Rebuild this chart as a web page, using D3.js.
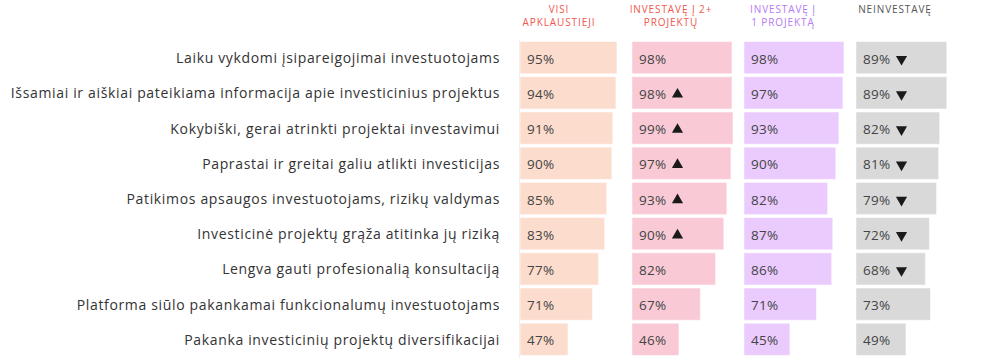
<!DOCTYPE html>
<html><head><meta charset="utf-8">
<script src="https://cdn.jsdelivr.net/npm/d3@7"></script>
<style>body{margin:0;background:#fff;}svg{display:block;font-family:"Open Sans",sans-serif;}</style>
</head><body><svg id="c" width="984" height="360"></svg>
<script>
const categories = [
  "Laiku vykdomi įsipareigojimai investuotojams",
  "Išsamiai ir aiškiai pateikiama informacija apie investicinius projektus",
  "Kokybiški, gerai atrinkti projektai investavimui",
  "Paprastai ir greitai galiu atlikti investicijas",
  "Patikimos apsaugos investuotojams, rizikų valdymas",
  "Investicinė projektų grąža atitinka jų riziką",
  "Lengva gauti profesionalią konsultaciją",
  "Platforma siūlo pakankamai funkcionalumų investuotojams",
  "Pakanka investicinių projektų diversifikacijai"
];
const seriesNames = [["VISI","APKLAUSTIEJI"],["INVESTAVĘ Į 2+","PROJEKTŲ"],["INVESTAVĘ Į","1 PROJEKTĄ"],["NEINVESTAVĘ"]];
const allRespondents = [95,94,91,90,85,83,77,71,47];
const invested2plus  = [98,98,99,97,93,90,82,67,46];
const invested1      = [98,97,93,90,82,87,86,71,45];
const notInvested    = [89,89,82,81,79,72,68,73,49];
// significance markers: "up", "down" or ""
const marks2plus = ["","up","up","up","up","up","","",""];
const marksNot   = ["down","down","down","down","down","down","down","",""];
const marksNone  = ["","","","","","","","",""];

const series = [
  {name: seriesNames[0], values: allRespondents, marks: marksNone, fill:"#fcdccc", head:"#f2574c"},
  {name: seriesNames[1], values: invested2plus, marks: marks2plus, fill:"#f9cad5", head:"#f2574c"},
  {name: seriesNames[2], values: invested1, marks: marksNone, fill:"#ebcbfd", head:"#b57bf2"},
  {name: seriesNames[3], values: notInvested, marks: marksNot, fill:"#d9d9d9", head:"#555555"}
];

const svg = d3.select("#c");
const y = d3.scaleBand().domain(categories).range([40.5, 356.5]).paddingInner(0.085).paddingOuter(0.03);
const colX = d3.scaleBand().domain(d3.range(series.length)).range([520, 968]).paddingInner(0);
const w = d3.scaleLinear().domain([0,100]).range([0,102]);

svg.append("line").attr("x1",519.5).attr("x2",519.5).attr("y1",40).attr("y2",358)
  .attr("stroke","#ececec").attr("stroke-width",1);

svg.append("g").selectAll("text").data(categories).join("text")
  .attr("x",500).attr("y",d=>y(d)+y.bandwidth()/2+5.5)
  .attr("text-anchor","end").attr("font-size",14).attr("fill","#333")
  .attr("letter-spacing","0.66px")
  .text(d=>d);

const tri = d3.symbol().type(d3.symbolTriangle).size(54);

series.forEach((s,i)=>{
  const x0 = colX(i);
  const g = svg.append("g");
  g.append("text").attr("text-anchor","middle").attr("font-size",10).attr("fill",s.head)
    .attr("letter-spacing","0.9px")
    .selectAll("tspan").data(s.name).join("tspan")
    .attr("x",x0+39).attr("y",(d,k)=>12.5+k*13).text(d=>d);
  g.selectAll("rect").data(s.values).join("rect")
    .attr("x",x0).attr("y",(d,k)=>y(categories[k]))
    .attr("width",d=>w(d)).attr("height",y.bandwidth())
    .attr("fill",s.fill).attr("stroke","#ffffff").attr("stroke-opacity",0.5).attr("stroke-width",1);
  const vt = g.selectAll("text.v").data(s.values).join("text").attr("class","v")
    .attr("x",x0+7).attr("y",(d,k)=>y(categories[k])+y.bandwidth()/2+6)
    .attr("font-size",13.5).attr("fill","#444").attr("letter-spacing","0.3px")
    .text(d=>d+"%");
  vt.each(function(d,k){
    const m = s.marks[k];
    if(!m) return;
    const bb = this.getBBox();
    const cx = bb.x + bb.width + 11;
    const cy = y(categories[k]) + y.bandwidth()/2 + 1.5;
    g.append("path").attr("d",tri)
      .attr("transform",`translate(${cx},${cy}) rotate(${m==="down"?180:0})`)
      .attr("fill","#1a1a1a");
  });
});
</script></body></html>
